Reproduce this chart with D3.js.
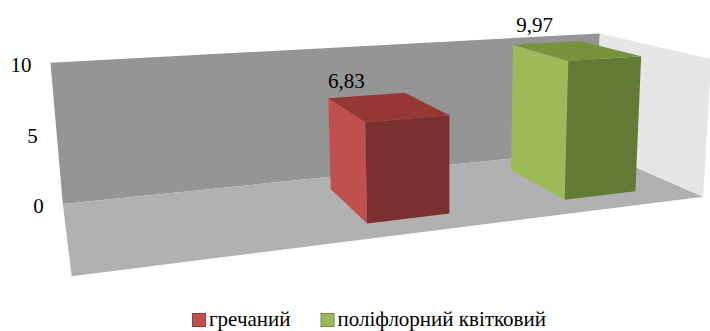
<!DOCTYPE html>
<html lang="uk">
<head>
<meta charset="UTF-8">
<title>3D column chart</title>
<script src="https://d3js.org/d3.v7.min.js"></script>
<style>
  body { margin: 0; background: #fff; }
</style>
</head>
<body>
<script>
// data
const series = ["гречаний", "поліфлорний квітковий"];
const values = [6.83, 9.97];
const valueLabels = ["6,83", "9,97"];
const yTicks = [0, 5, 10];
const yTickLabels = ["0", "5", "10"];

const font = "'Liberation Serif', Tinos, 'Nimbus Roman', FreeSerif, 'Noto Serif', 'DejaVu Serif', 'Times New Roman', Times, serif";
const w = 710, h = 331;
const svg = d3.select("body").append("svg").attr("width", w).attr("height", h);

// frame corners of the 3d box (world x,y,z in 0..1 -> screen u,v), used to fit the camera
const frame = [
  [0, 0, 0, 63, 203], [0, 1, 0, 50, 63], [0, 0, 1, 72, 277],
  [1, 0, 0, 594, 150], [1, 1, 0, 602, 34], [1, 0, 1, 705, 197], [1, 1, 1, 709, 58]
];

// fit a 3x4 perspective camera (DLT, least squares)
function fitCamera(pts) {
  const cu = 380, cv = 150, s = 300;
  const A = [], b = [];
  pts.forEach(([X, Y, Z, u0, v0]) => {
    const u = (u0 - cu) / s, v = (v0 - cv) / s;
    A.push([X, Y, Z, 1, 0, 0, 0, 0, -u * X, -u * Y, -u * Z]); b.push(u);
    A.push([0, 0, 0, 0, X, Y, Z, 1, -v * X, -v * Y, -v * Z]); b.push(v);
  });
  const n = 11;
  const M = d3.range(n).map(i => d3.range(n + 1).map(j =>
    d3.sum(A, (r, k) => r[i] * (j < n ? r[j] : b[k]))));
  for (let c = 0; c < n; c++) {
    let piv = c;
    for (let r = c + 1; r < n; r++) if (Math.abs(M[r][c]) > Math.abs(M[piv][c])) piv = r;
    [M[c], M[piv]] = [M[piv], M[c]];
    for (let r = 0; r < n; r++) {
      if (r === c) continue;
      const f = M[r][c] / M[c][c];
      for (let k = c; k <= n; k++) M[r][k] -= f * M[c][k];
    }
  }
  const p = M.map((r, i) => r[n] / r[i]);
  return (X, Y, Z) => {
    const q = p[8] * X + p[9] * Y + p[10] * Z + 1;
    return [cu + s * (p[0] * X + p[1] * Y + p[2] * Z + p[3]) / q,
            cv + s * (p[4] * X + p[5] * Y + p[6] * Z + p[7]) / q];
  };
}
const project = fitCamera(frame);

// scales
const xscale = d3.scaleBand().domain(series).range([0.3, 1])
  .paddingInner(0.602).paddingOuter(0.3185).align(0.6);
const yscale = d3.scaleLinear().domain([0, 10]).range([0, 1]);
const zBack = 0.22, zFront = 0.8;

const colors = [
  { side: "#c0504d", top: "#953735", front: "#7b3030" },
  { side: "#9bbb59", top: "#76923c", front: "#637a37" }
];

const poly = pts => "M" + pts.map(p => project(...p).join(",")).join("L") + "Z";

// walls and floor
const g = svg.append("g");
g.append("path").attr("d", poly([[0, 0, 0], [1, 0, 0], [1, 1, 0], [0, 1, 0]])).attr("fill", "#959595");
g.append("path").attr("d", poly([[0, 0, 0], [1, 0, 0], [1, 0, 1], [0, 0, 1]])).attr("fill", "#b1b1b1");
g.append("path").attr("d", poly([[1, 0, 0], [1, 0, 1], [1, 1, 1], [1, 1, 0]])).attr("fill", "#e6e6e6");

// y labels
g.selectAll(".ytick").data(yTicks).enter().append("text")
  .attr("class", "ytick")
  .attr("x", d => project(0, yscale(d), 0)[0] - 19)
  .attr("y", d => project(0, yscale(d), 0)[1] + 2)
  .attr("text-anchor", "end")
  .attr("dominant-baseline", "central")
  .style("font-family", font).style("font-size", "21px")
  .text((d, i) => yTickLabels[i]);

// bars
const bars = g.selectAll(".bar").data(series).enter().append("g").attr("class", "bar");
bars.each(function (d, i) {
  const x0 = xscale(d), x1 = x0 + xscale.bandwidth(), y1 = yscale(values[i]);
  const b = d3.select(this);
  b.append("path").attr("fill", colors[i].side)
    .attr("d", poly([[x0, 0, zBack], [x0, 0, zFront], [x0, y1, zFront], [x0, y1, zBack]]));
  b.append("path").attr("fill", colors[i].front)
    .attr("d", poly([[x0, 0, zFront], [x1, 0, zFront], [x1, y1, zFront], [x0, y1, zFront]]));
  b.append("path").attr("fill", colors[i].top)
    .attr("d", poly([[x0, y1, zBack], [x1, y1, zBack], [x1, y1, zFront], [x0, y1, zFront]]));
  const c = project(x0 + xscale.bandwidth() / 2, y1, (zBack + zFront) / 2);
  b.append("text")
    .attr("x", c[0] - 40).attr("y", c[1] - 18)
    .attr("text-anchor", "middle")
    .style("font-family", font).style("font-size", "21px")
    .text(valueLabels[i]);
});

// legend
const legend = svg.append("g");
let lx = 0;
series.forEach((s, i) => {
  const it = legend.append("g").attr("transform", `translate(${lx},0)`);
  it.append("rect").attr("x", 0.5).attr("y", -12.5).attr("width", 13).attr("height", 13)
    .attr("fill", colors[i].side).attr("stroke", d3.color(colors[i].side).darker(0.8));
  const t = it.append("text").attr("x", 17).attr("y", 0)
    .style("font-family", font).style("font-size", "21px").text(s);
  lx += 17 + t.node().getComputedTextLength() + 30;
});
const lw = lx - 30;
legend.attr("transform", `translate(${Math.round(369 - lw / 2)},326)`);
</script>
</body>
</html>
